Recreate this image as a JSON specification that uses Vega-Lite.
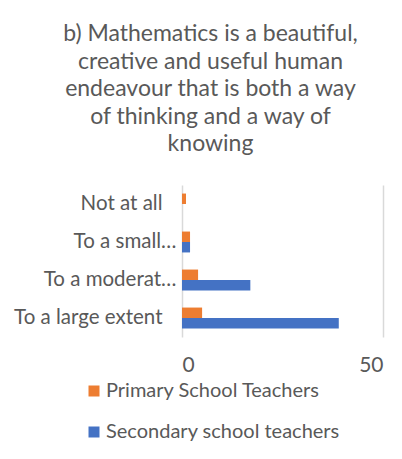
{
  "$schema": "https://vega.github.io/schema/vega-lite/v6.json",
  "width": 201,
  "height": 152,
  "autosize": "none",
  "padding": {"left": 182, "top": 185, "right": 19, "bottom": 122},
  "background": "white",
  "config": {"view": {"stroke": null}, "font": "Lato"},
  "title": {
    "text": ["b) Mathematics is a beautiful,", "creative and useful human", "endeavour that is both a way", "of thinking and a way of", "knowing"],
    "font": "Lato",
    "fontSize": 23,
    "fontWeight": "normal",
    "color": "#595959",
    "lineHeight": 27.5,
    "anchor": "middle",
    "frame": "group",
    "dx": -72,
    "offset": 29
  },
  "data": {
    "values": [
      {"response": "Not at all", "group": "Primary School Teachers", "value": 1},
      {"response": "Not at all", "group": "Secondary school teachers", "value": 0},
      {"response": "To a small…", "group": "Primary School Teachers", "value": 2},
      {"response": "To a small…", "group": "Secondary school teachers", "value": 2},
      {"response": "To a moderat…", "group": "Primary School Teachers", "value": 4},
      {"response": "To a moderat…", "group": "Secondary school teachers", "value": 17},
      {"response": "To a large extent", "group": "Primary School Teachers", "value": 5},
      {"response": "To a large extent", "group": "Secondary school teachers", "value": 39}
    ]
  },
  "mark": {"type": "bar"},
  "encoding": {
    "y": {
      "field": "response",
      "type": "nominal",
      "sort": ["Not at all", "To a small…", "To a moderat…", "To a large extent"],
      "scale": {"paddingInner": 0.45, "paddingOuter": 0.225},
      "axis": {
        "title": null,
        "domain": false,
        "ticks": false,
        "labelFont": "Lato",
        "labelFontSize": 20.5,
        "labelColor": "#595959",
        "labelLimit": 300,
        "labelPadding": {"condition": {"test": "indexof(datum.label, '…') >= 0", "value": 6}, "value": 20}
      }
    },
    "yOffset": {
      "field": "group",
      "sort": ["Primary School Teachers", "Secondary school teachers"],
      "scale": {"paddingInner": 0}
    },
    "x": {
      "field": "value",
      "type": "quantitative",
      "scale": {"domain": [0, 50]},
      "axis": {
        "title": null,
        "values": [0, 50],
        "domain": false,
        "ticks": false,
        "grid": true,
        "gridColor": "#d9d9d9",
        "gridWidth": 1.5,
        "labelFont": "Lato",
        "labelFontSize": 21,
        "labelColor": "#595959",
        "labelPadding": 17
      }
    },
    "color": {
      "field": "group",
      "type": "nominal",
      "scale": {"domain": ["Primary School Teachers", "Secondary school teachers"], "range": ["#ED7D31", "#4472C4"]},
      "legend": {
        "title": null,
        "orient": "none",
        "legendX": -98,
        "legendY": 196,
        "direction": "vertical",
        "symbolType": "square",
        "symbolSize": 121,
        "symbolStrokeWidth": 0,
        "labelFont": "Lato",
        "labelFontSize": 20,
        "labelColor": "#595959",
        "labelOffset": 2,
        "labelLimit": 400,
        "rowPadding": 21
      }
    }
  }
}
